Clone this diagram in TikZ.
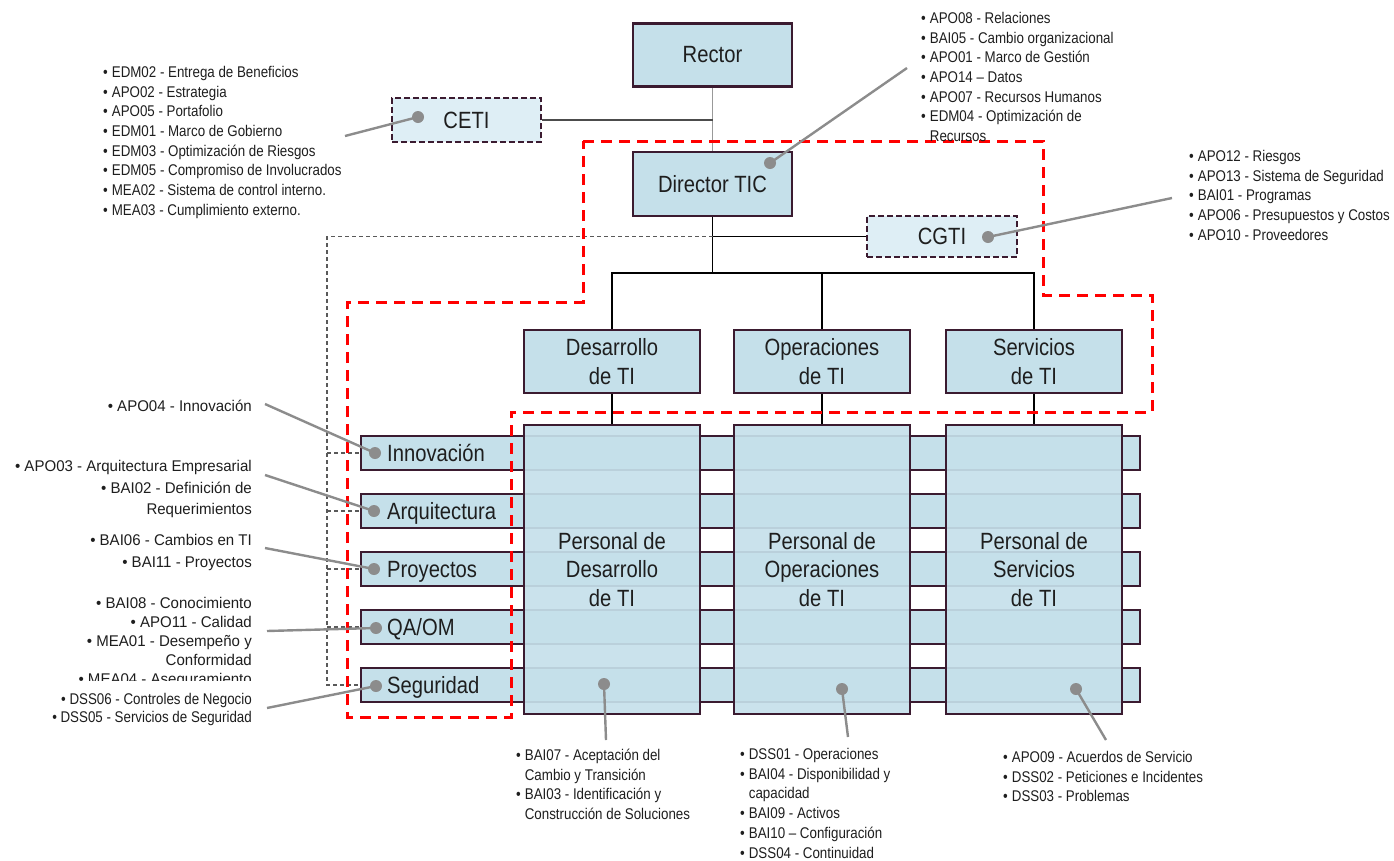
\documentclass[tikz,border=0pt]{standalone}
\usepackage{fontspec}
\setmainfont{Liberation Sans}[FakeStretch=0.86]
\newfontfamily\widefont{Liberation Sans}[FakeStretch=0.97]
\usetikzlibrary{calc}
\definecolor{bord}{HTML}{3B1B30}
\definecolor{boxfill}{HTML}{C5E0EA}
\definecolor{lightfill}{HTML}{DEEEF5}
\definecolor{calloutgray}{HTML}{8C8C8C}
\definecolor{txt}{HTML}{1E1E1E}
\newcommand\biglbl{\fontsize{23.5}{28.5}\selectfont}
\begin{document}
\begin{tikzpicture}[x=1pt,y=-1pt, text=txt,
  box/.style={draw=bord, line width=2.7pt, fill=boxfill, inner sep=0, font=\biglbl, align=center},
  dbox/.style={box, fill=lightfill, dash pattern=on 6pt off 3pt},
  rowbox/.style={draw=bord, line width=2.7pt, fill=boxfill, minimum width=779pt, minimum height=34pt, inner sep=0},
  pers/.style={box, fill opacity=0.92, text opacity=1, draw opacity=1, minimum width=176pt, minimum height=289pt},
  unitbox/.style={box, minimum width=176pt, minimum height=63pt},
  rowlbl/.style={font=\biglbl, inner sep=0, anchor=base west},
  dot/.style={circle, fill=calloutgray, inner sep=0, minimum size=12pt},
  callout/.style={draw=calloutgray, line width=2.4pt},
  conn/.style={draw=black, line width=1.2pt},
  nlist/.style={inner sep=0, font=\fontsize{15.5}{19.7}\selectfont},
  wlist/.style={inner sep=0, font=\widefont\fontsize{15.5}{21.5}\selectfont},
  redzone/.style={draw=red, line width=3pt, dash pattern=on 11pt off 7pt},
  ctrl/.style={draw=black!65, line width=1.2pt, dash pattern=on 4pt off 3pt}
]
\useasboundingbox (0,0) rectangle (1394,860);

% top boxes
\node[box, minimum width=159pt, minimum height=63pt] (rector) at (712.5,55) {Rector};
\node[box, minimum width=159pt, minimum height=64pt] (director) at (712.5,184) {Director TIC};
\node[dbox, minimum width=149pt, minimum height=44pt] (ceti) at (466.5,120) {CETI};
\node[dbox, minimum width=150pt, minimum height=41pt] (cgti) at (942,236.5) {CGTI};

% units
\node[unitbox] (desa) at (612,361.5) {Desarrollo\\de TI};
\node[unitbox] (oper) at (822,361.5) {Operaciones\\de TI};
\node[unitbox] (serv) at (1034,361.5) {Servicios\\de TI};

% connectors
\draw[draw=black!40, line width=1.2pt] (rector.south) -- (director.north);
\draw[draw=black!70, line width=1.2pt] (ceti.east) -- (ceti.east -| rector.south);
\coordinate (j1) at (712.5,273);
\draw[conn] (director.south) -- (j1);
\draw[conn] (cgti.west) -- (cgti.west -| director.south);
\draw[conn] (desa.north) |- (j1) -| (serv.north);
\draw[conn] (oper.north) -- (oper.north |- j1);

% rows
\node[rowbox] (r1) at (750.5,453) {};
\node[rowbox] (r2) at (750.5,511) {};
\node[rowbox] (r3) at (750.5,569) {};
\node[rowbox] (r4) at (750.5,627) {};
\node[rowbox] (r5) at (750.5,685) {};

% personal
\node[pers] (desP) at (612,569.5) {Personal de\\Desarrollo\\de TI};
\node[pers] (operP) at (822,569.5) {Personal de\\Operaciones\\de TI};
\node[pers] (servP) at (1034,569.5) {Personal de\\Servicios\\de TI};
\draw[conn] (desa.south) -- (desP.north);
\draw[conn] (oper.south) -- (operP.north);
\draw[conn] (serv.south) -- (servP.north);

% row labels
\node[rowlbl] (l1) at (387,461.5) {Innovación};
\node[rowlbl] (l2) at (387,519.5) {Arquitectura};
\node[rowlbl] (l3) at (387,577.5) {Proyectos};
\node[rowlbl] (l4) at (387,635.5) {QA/OM};
\node[rowlbl] (l5) at (387,693.5) {Seguridad};

% control dashed line
\coordinate (dl) at (327,236.5);
\draw[ctrl] (cgti.west -| director.south) -- (dl) |- (r5.west);
\draw[ctrl] (dl |- r1.west) -- (r1.west);
\draw[ctrl] (dl |- r2.west) -- (r2.west);
\draw[ctrl] (dl |- r3.west) -- (r3.west);
\draw[ctrl] (dl |- r4.west) -- (r4.west);

% red zone
\draw[redzone] (583,141) -- (1043,141) -- (1043,295) -- (1152,295) -- (1152,412) -- (511,412) -- (511,717) -- (347,717) -- (347,302) -- (583,302) -- cycle;

% lists
\node[nlist, anchor=north west] (lceti) at (103,63.5) {\begin{tabular}{@{}l@{\hspace{4pt}}l@{}}
•&EDM02 - Entrega de Beneficios\\
•&APO02 - Estrategia\\
•&APO05 - Portafolio\\
•&EDM01 - Marco de Gobierno\\
•&EDM03 - Optimización de Riesgos\\
•&EDM05 - Compromiso de Involucrados\\
•&MEA02 - Sistema de control interno.\\
•&MEA03 - Cumplimiento externo.
\end{tabular}};
\node[nlist, anchor=north west] (ldir) at (921,9.5) {\begin{tabular}{@{}l@{\hspace{4pt}}l@{}}
•&APO08 - Relaciones\\
•&BAI05 - Cambio organizacional\\
•&APO01 - Marco de Gestión\\
•&APO14 – Datos\\
•&APO07 - Recursos Humanos\\
•&EDM04 - Optimización de\\
&Recursos
\end{tabular}};
\node[nlist, anchor=north west] (lcgti) at (1189,147.5) {\begin{tabular}{@{}l@{\hspace{4pt}}l@{}}
•&APO12 - Riesgos\\
•&APO13 - Sistema de Seguridad\\
•&BAI01 - Programas\\
•&APO06 - Presupuestos y Costos\\
•&APO10 - Proveedores
\end{tabular}};
\node[wlist, anchor=north east] (linn) at (252,396.5) {\begin{tabular}{@{}r@{}}
• APO04 - Innovación
\end{tabular}};
\node[wlist, anchor=north east] (larq) at (252,456.3) {\begin{tabular}{@{}r@{}}
• APO03 - Arquitectura Empresarial\\
• BAI02 - Definición de\\
Requerimientos
\end{tabular}};
\node[wlist, anchor=north east] (lpro) at (252,530.3) {\begin{tabular}{@{}r@{}}
• BAI06 - Cambios en TI\\
• BAI11 - Proyectos
\end{tabular}};
\node[wlist, anchor=north east, font=\widefont\fontsize{15.5}{19}\selectfont] (lqa) at (252,595) {\begin{tabular}{@{}r@{}}
• BAI08 - Conocimiento\\
• APO11 - Calidad\\
• MEA01 - Desempeño y\\
Conformidad\\
• MEA04 - Aseguramiento
\end{tabular}};
\node[nlist, anchor=north east, fill=white, inner ysep=10pt, font=\fontsize{15.5}{18.5}\selectfont] (lseg) at (252,681) {\begin{tabular}{@{}r@{}}
• DSS06 - Controles de Negocio\\
• DSS05 - Servicios de Seguridad
\end{tabular}};
\node[nlist, anchor=north west] (ldes) at (516,746.5) {\begin{tabular}{@{}l@{\hspace{4pt}}l@{}}
•&BAI07 - Aceptación del\\
&Cambio y Transición\\
•&BAI03 - Identificación y\\
&Construcción de Soluciones
\end{tabular}};
\node[nlist, anchor=north west] (lope) at (740,745.5) {\begin{tabular}{@{}l@{\hspace{4pt}}l@{}}
•&DSS01 - Operaciones\\
•&BAI04 - Disponibilidad y\\
&capacidad\\
•&BAI09 - Activos\\
•&BAI10 – Configuración\\
•&DSS04 - Continuidad
\end{tabular}};
\node[nlist, anchor=north west] (lser) at (1003,748.5) {\begin{tabular}{@{}l@{\hspace{4pt}}l@{}}
•&APO09 - Acuerdos de Servicio\\
•&DSS02 - Peticiones e Incidentes\\
•&DSS03 - Problemas
\end{tabular}};

% callouts
\node[dot] (dceti) at (418,117) {};
\node[dot] (ddir) at (770,163) {};
\node[dot] (dcgti) at (988,237) {};
\node[dot] (d1) at (375,453) {};
\node[dot] (d2) at (374,511) {};
\node[dot] (d3) at (374,569) {};
\node[dot] (d4) at (376,628) {};
\node[dot] (d5) at (376,686) {};
\node[dot] (dp1) at (604,684) {};
\node[dot] (dp2) at (842,689) {};
\node[dot] (dp3) at (1076,689) {};
\coordinate (eceti) at (345,136);
\coordinate (edir) at (907,68);
\coordinate (ecgti) at (1172,198);
\coordinate (e1) at (265,404);
\coordinate (e2) at (265,475);
\coordinate (e3) at (265,548);
\coordinate (e4) at (267,631);
\coordinate (e5) at (267,708);
\coordinate (ep1) at (606,740);
\coordinate (ep2) at (848,737);
\coordinate (ep3) at (1106,740);
\draw[callout] (dceti.center) -- (eceti);
\draw[callout] (ddir.center) -- (edir);
\draw[callout] (dcgti.center) -- (ecgti);
\draw[callout] (d1.center) -- (e1);
\draw[callout] (d2.center) -- (e2);
\draw[callout] (d3.center) -- (e3);
\draw[callout] (d4.center) -- (e4);
\draw[callout] (d5.center) -- (e5);
\draw[callout] (dp1.center) -- (ep1);
\draw[callout] (dp2.center) -- (ep2);
\draw[callout] (dp3.center) -- (ep3);
\end{tikzpicture}
\end{document}
